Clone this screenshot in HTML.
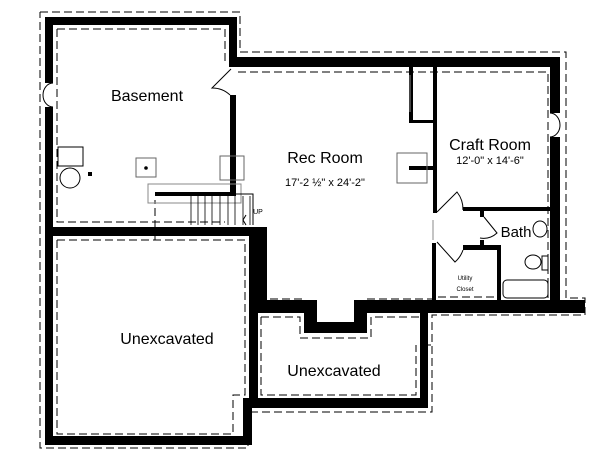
<!DOCTYPE html>
<html><head><meta charset="utf-8"><style>
html,body{margin:0;padding:0;background:#fff;}
svg{display:block;font-family:"Liberation Sans",sans-serif;}
</style></head><body>
<svg width="600" height="461" viewBox="0 0 600 461" xmlns="http://www.w3.org/2000/svg">
<g fill="none" stroke="#000" stroke-width="1" stroke-dasharray="8,4">
<polyline points="40,12 240,12 240,52 566,52 566,298 585,298 585,315 432,315 432,345 420,345 420,345 432,345 432,412 248,412 248,448 40,448 40,12"/>
<polyline points="57,29 225,29 225,62"/>
<polyline points="57,29 57,222 225,222"/>
<polyline points="238,72 548,72 548,298"/>
<polyline points="57,240 245,240 245,395 233,395 233,434 57,434 57,240"/>
<polyline points="261,317 300,317 300,338 371,338 371,317 421,317"/>
<polyline points="261,317 261,395 416,395 416,345"/>
<polyline points="270,299 304,299"/>
<polyline points="367,299 432,299"/>
<polyline points="155,240 155,200"/>
<polyline points="438,297 497,297"/>
</g>
<g fill="#000">
<rect x="45" y="17" width="192" height="8"/>
<rect x="45" y="17" width="8" height="66"/>
<rect x="45" y="107" width="8" height="338"/>
<rect x="229" y="17" width="8" height="50"/>
<rect x="229" y="57" width="331" height="10"/>
<rect x="230" y="95" width="6" height="101"/>
<rect x="155" y="192" width="81" height="4"/>
<rect x="45" y="227" width="222" height="9"/>
<rect x="249" y="227" width="18" height="80"/>
<rect x="249" y="227" width="9" height="181"/>
<rect x="243" y="398" width="9" height="47"/>
<rect x="45" y="436" width="207" height="9"/>
<rect x="249" y="398" width="179" height="10"/>
<rect x="420" y="300" width="8" height="108"/>
<rect x="249" y="300" width="68" height="13"/>
<rect x="354" y="300" width="231" height="13"/>
<rect x="304" y="300" width="13" height="33"/>
<rect x="354" y="300" width="13" height="33"/>
<rect x="304" y="322" width="63" height="11"/>
<rect x="550" y="57" width="10" height="56"/>
<rect x="550" y="137" width="10" height="176"/>
<rect x="433" y="67" width="4" height="146"/>
<rect x="409" y="67" width="4" height="56"/>
<rect x="409" y="120" width="24" height="3"/>
<rect x="409" y="166" width="24" height="4"/>
<rect x="463" y="207" width="87" height="4"/>
<rect x="480" y="211" width="4" height="6"/>
<rect x="480" y="240" width="4" height="6"/>
<rect x="432" y="243" width="4" height="57"/>
<rect x="463" y="245" width="38" height="5"/>
<rect x="497" y="245" width="4" height="55"/>
</g>
<g fill="none" stroke="#000" stroke-width="1">
<path d="M53,83 A10,12 0 0 0 53,107"/>
<path d="M550,113 A10,12 0 0 1 550,137"/>
<path d="M231,69 L212,88 A26,26 0 0 1 230,95"/>
<path d="M437,212 L457,192 A28,28 0 0 1 463,210"/>
<path d="M437,242 L455,262 A28,28 0 0 0 463,250"/>
<path d="M484,217 L497,233 A20,20 0 0 1 480,238"/>
<ellipse cx="540" cy="229" rx="7" ry="8"/>
<ellipse cx="533" cy="262" rx="8" ry="7"/>
<rect x="542" y="256" width="6" height="14"/>
<rect x="503" y="280" width="45" height="18" rx="4"/>
<rect x="58" y="147" width="25" height="19"/>
<circle cx="70" cy="178" r="10"/>
<rect x="136" y="158" width="20" height="19" stroke="#666"/>
<rect x="220" y="156" width="24" height="24" stroke="#666"/>
<rect x="397" y="153" width="30" height="30" stroke="#666"/>
<rect x="148" y="184" width="93" height="19" stroke="#888"/>
<path d="M191,196 V225 M198,196 V225 M205,196 V225 M212,196 V225 M220,196 V225 M228,196 V225 M235,196 V225 M243,196 V225 M250,196 V225" stroke-width="0.8"/>
<path d="M236,194 H253 V225"/>
<path d="M246,215 L243,220 L246,225"/>
<path d="M410,75 V112 M433,220 V240" stroke="#888"/>
</g>
<rect x="88" y="172" width="4" height="4" fill="#000"/>
<circle cx="146" cy="168" r="1.8" fill="#000"/>
<g fill="#000" text-anchor="middle">
<text x="147" y="101" font-size="16">Basement</text>
<text x="325" y="163" font-size="16">Rec Room</text>
<text x="325" y="186" font-size="11">17'-2 ½" x 24'-2"</text>
<text x="490" y="150" font-size="16">Craft Room</text>
<text x="490" y="164" font-size="11">12'-0" x 14'-6"</text>
<text x="516" y="237" font-size="15">Bath</text>
<text x="465" y="280" font-size="6">Utility</text>
<text x="465" y="291" font-size="6">Closet</text>
<text x="167" y="344" font-size="16">Unexcavated</text>
<text x="334" y="376" font-size="16">Unexcavated</text>
<text x="258" y="214" font-size="7">UP</text>
</g>
</svg>
</body></html>
